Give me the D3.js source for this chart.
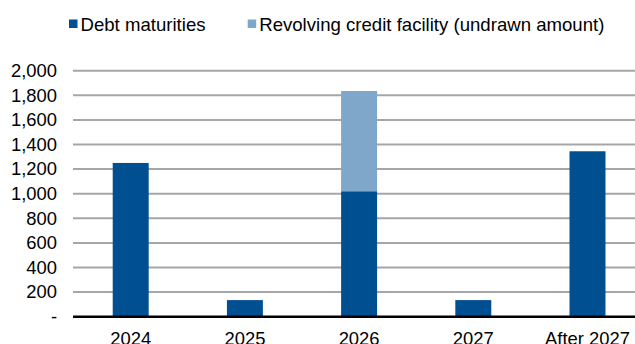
<!doctype html>
<html lang="en">
  <head>
    <meta charset="utf-8">
    <title>Debt maturities</title>
    <style>
        body { margin: 0; background: #fff; }
        svg { display: block; font-family: "Liberation Sans", Arial, sans-serif; }
        .grid line { stroke: #A6A6A6; stroke-width: 2px; }
        .tick text { font-size: 18.4px; fill: #000; }
        .legend text { font-size: 18.6px; fill: #000; }
    </style>
  </head>
  <body>
    <svg width="635" height="344"></svg>
    <script src="https://d3js.org/d3.v7.min.js"></script>
    <script>
        var categories = ["2024", "2025", "2026", "2027", "After 2027"];
        var debtMaturities = [1250, 135, 1020, 135, 1345];
        var rcfUndrawn = [0, 0, 815, 0, 0];
        var yTicks = [0, 200, 400, 600, 800, 1000, 1200, 1400, 1600, 1800, 2000];
        var seriesNames = ["Debt maturities", "Revolving credit facility (undrawn amount)"];
        var colors = ["#004F91", "#7FA7CA"];

        var svg = d3.select("svg");

        var x = d3.scaleBand()
            .domain(categories)
            .range([73.6, 644.6])
            .paddingInner(0.685)
            .paddingOuter(0.3425);

        var y = d3.scaleLinear()
            .domain([0, 2000])
            .range([316.7, 70.7]);

        // gridlines
        svg.append("g")
            .attr("class", "grid")
            .selectAll("line")
            .data(yTicks.slice(1))
            .enter().append("line")
            .attr("x1", 73)
            .attr("x2", 635)
            .attr("y1", d => y(d))
            .attr("y2", d => y(d));

        // y axis labels
        var yAxis = d3.axisLeft(y)
            .tickValues(yTicks)
            .tickSize(0)
            .tickPadding(0)
            .tickFormat(d => d === 0 ? "-" : d3.format(",")(d));

        svg.append("g")
            .attr("transform", "translate(57,0)")
            .call(yAxis)
            .call(g => g.select(".domain").remove());

        // stacked bars
        var rows = categories.map((c, i) => ({cat: c, debt: debtMaturities[i], rcf: rcfUndrawn[i]}));
        var stack = d3.stack().keys(["debt", "rcf"])(rows);

        svg.append("g")
            .selectAll("g")
            .data(stack)
            .enter().append("g")
            .attr("fill", (d, i) => colors[i])
            .selectAll("rect")
            .data(d => d.filter(p => p[1] > p[0]))
            .enter().append("rect")
            .attr("x", d => x(d.data.cat))
            .attr("width", x.bandwidth())
            .attr("y", d => y(d[1]))
            .attr("height", d => y(d[0]) - y(d[1]));

        // x axis
        var xAxis = d3.axisBottom(x).tickSize(0).tickPadding(15);
        svg.append("g")
            .attr("transform", "translate(0," + y(0) + ")")
            .call(xAxis)
            .call(g => g.select(".domain").remove());

        svg.append("line")
            .attr("x1", 73)
            .attr("x2", 635)
            .attr("y1", y(0))
            .attr("y2", y(0))
            .attr("stroke", "#000")
            .attr("stroke-width", 2.5);

        // legend
        var legendX = [69, 247.7];
        var legend = svg.append("g").attr("class", "legend")
            .selectAll("g")
            .data(seriesNames)
            .enter().append("g")
            .attr("transform", (d, i) => "translate(" + legendX[i] + ",0)");

        legend.append("rect")
            .attr("x", 0)
            .attr("y", 19.5)
            .attr("width", 8.5)
            .attr("height", 8.5)
            .attr("fill", (d, i) => colors[i]);

        legend.append("text")
            .attr("x", 11.5)
            .attr("y", 31)
            .text(d => d);
    </script>
  </body>
</html>
